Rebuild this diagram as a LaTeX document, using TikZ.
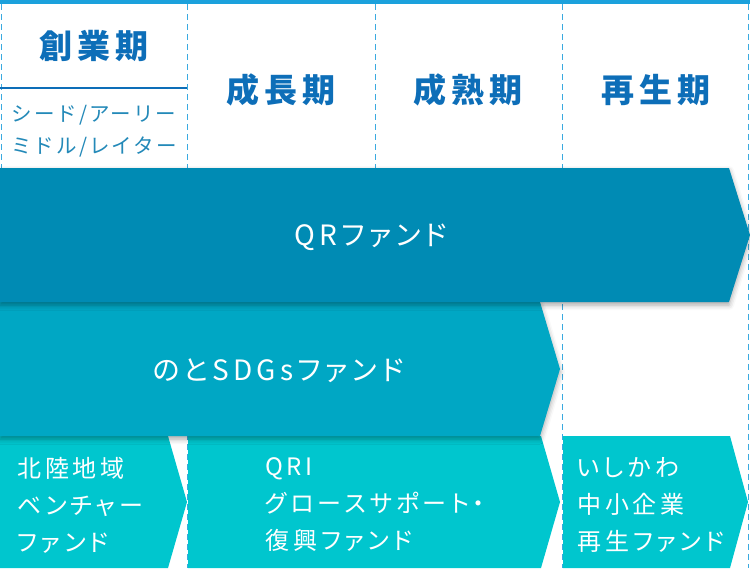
\documentclass[tikz,border=0pt]{standalone}
\usepackage{fontspec}
\setmainfont{Noto Sans CJK JP}
\newfontfamily\jphead[LetterSpace=15]{Noto Sans CJK JP}
\newfontfamily\jpsub[LetterSpace=10]{Noto Sans CJK JP}
\newfontfamily\jpband[LetterSpace=15,RawFeature=+palt]{Noto Sans CJK JP}
\newfontfamily\jpsmall[LetterSpace=16,RawFeature=+palt]{Noto Sans CJK JP}
\usetikzlibrary{shadows.blur}
\definecolor{topbar}{HTML}{1BA1DC}
\definecolor{headblue}{HTML}{0D6EB8}
\definecolor{subblue}{HTML}{2389B8}
\definecolor{dashblue}{HTML}{3AAAE0}
\definecolor{bandA}{HTML}{008BB4}
\definecolor{bandB}{HTML}{00A7C4}
\definecolor{bandC}{HTML}{00C6CE}
\tikzset{
  headtext/.style={text=headblue, font=\jphead\bfseries\fontsize{33}{36}\selectfont, inner sep=0pt},
  subtext/.style={text=subblue, font=\jpsub\fontsize{20.5}{32}\selectfont, inner sep=0pt},
  bandtext/.style={text=white, font=\jpband\fontsize{28}{30}\selectfont, inner sep=0pt},
  smalltext/.style={text=white, font=\jpsmall\fontsize{24}{37}\selectfont, inner sep=0pt, align=left, anchor=west},
  divider/.style={draw=dashblue, line width=1pt, dash pattern=on 6pt off 4pt},
  bandshadow/.style={blur shadow={shadow xshift=0pt, shadow yshift=-3pt, shadow blur radius=5pt, shadow opacity=35}}
}
\begin{document}
\begin{tikzpicture}[x=1pt,y=-1pt]
\useasboundingbox (0,0) rectangle (750,568);
% dashed dividers
\coordinate (d0t) at (1,4);   \coordinate (d0b) at (1,168);
\coordinate (d1t) at (187,4); \coordinate (d1b) at (187,568);
\coordinate (d2t) at (375,4); \coordinate (d2b) at (375,568);
\coordinate (d3t) at (562,4); \coordinate (d3b) at (562,568);
\coordinate (d4t) at (748,4); \coordinate (d4b) at (748,568);
\foreach \i in {0,...,4} \draw[divider] (d\i t) -- (d\i b);
% top bar
\fill[topbar] (0,0) rectangle (750,4);
% header
\node[headtext] (sogyo) at (94,46) {創業期};
\coordinate (ulL) at (0,88); \coordinate (ulR) at (187,88);
\draw[headblue, line width=2.5pt] (ulL) -- (ulR);
\node[subtext] (sub1) at (94,115) {シード/アーリー};
\node[subtext] (sub2) at (94,147) {ミドル/レイター};
\node[headtext] (seicho) at (281,90) {成長期};
\node[headtext] (seijuku) at (468,90) {成熟期};
\node[headtext] (saisei) at (656,90) {再生期};
% bottom arrows
\fill[bandC] (0,436) -- (168,436) -- (187,502) -- (168,568) -- (0,568) -- cycle;
\fill[bandC] (188,436) -- (541,436) -- (560,502) -- (541,568) -- (188,568) -- cycle;
\fill[bandC] (563,436) -- (730,436) -- (748,502) -- (730,568) -- (563,568) -- cycle;
% bands
\fill[bandB, bandshadow] (0,302) -- (540,302) -- (560,369) -- (540,436) -- (0,436) -- cycle;
\fill[bandA, bandshadow] (0,168) -- (729,168) -- (750,235) -- (729,302) -- (0,302) -- cycle;
\node[bandtext] (qr) at (371,237) {QRファンド};
\node[bandtext] (noto) at (278,371) {のとSDGsファンド};
\node[smalltext] (hokuriku) at (17,505) {北陸地域\\ベンチャー\\ファンド};
\node[smalltext] (qri) at (265,505) {QRI\\グロースサポート・\\復興ファンド};
\node[smalltext] (ishikawa) at (577,505) {いしかわ\\中小企業\\再生ファンド};
\end{tikzpicture}
\end{document}
